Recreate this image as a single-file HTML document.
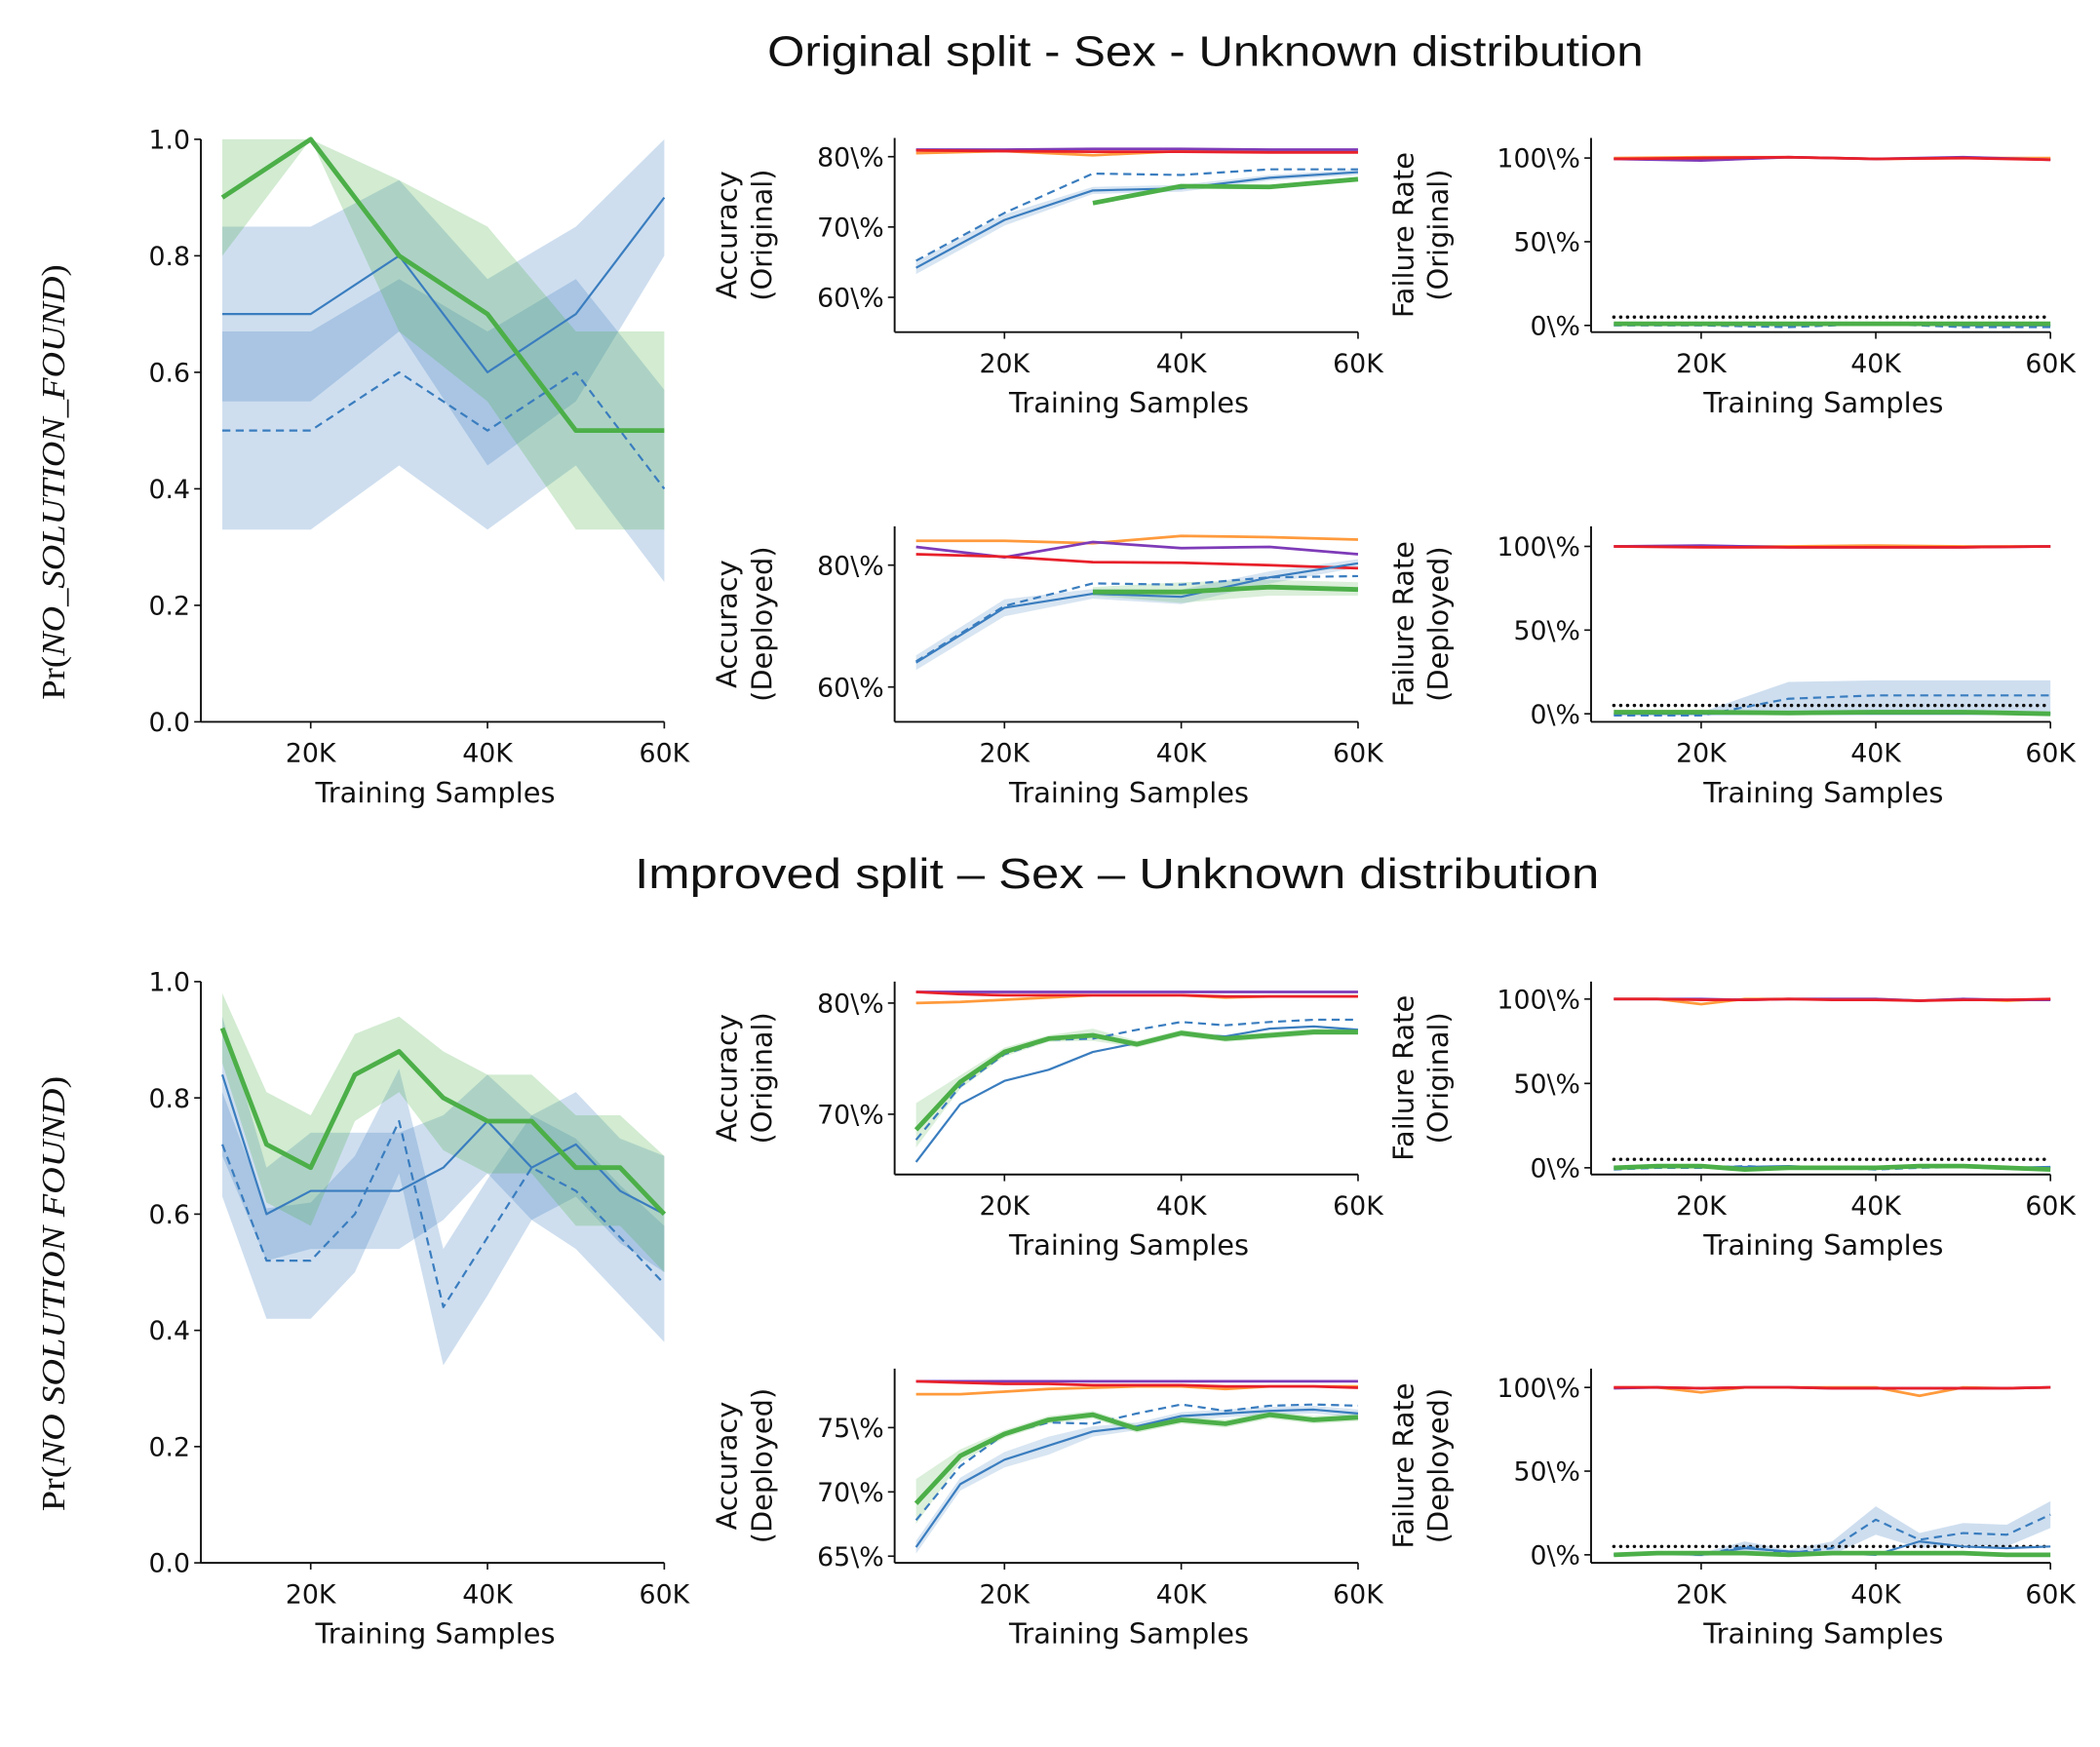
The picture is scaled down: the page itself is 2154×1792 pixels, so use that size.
<!DOCTYPE html>
<html><head><meta charset="utf-8">
<style>
html,body{margin:0;padding:0;background:#fff;}
svg{display:block;}
text{font-family:"DejaVu Sans","Liberation Sans",sans-serif;fill:#111;}
.ttl{font-family:"Liberation Sans",sans-serif;font-size:32px;}
.tick{font-size:19.5px;}
.axl{font-size:21px;}
.pr{font-family:"Liberation Serif",serif;font-size:25px;}
</style></head>
<body>
<svg id="chart" width="2154" height="1792" viewBox="0 0 1568 1304.5" preserveAspectRatio="none" xmlns="http://www.w3.org/2000/svg">
<rect x="0" y="0" width="1568" height="1304.5" fill="#fff"/>
<text class="ttl" x="900" y="49" text-anchor="middle" textLength="654" lengthAdjust="spacingAndGlyphs">Original split - Sex - Unknown distribution</text>
<text class="ttl" x="834" y="663" text-anchor="middle" textLength="720" lengthAdjust="spacingAndGlyphs">Improved split – Sex – Unknown distribution</text>
</svg>
<script>
// ---------- data ----------
const xs6=[10,20,30,40,50,60];
const xs11=[10,15,20,25,30,35,40,45,50,55,60];
const xTickVals=[20,40,60];
const xTickLabels=['20K','40K','60K'];

// Top-left: Pr(no solution)
const tlBlue=[0.7,0.7,0.8,0.6,0.7,0.9];
const tlBlueLo=[0.55,0.55,0.67,0.44,0.55,0.8];
const tlBlueHi=[0.85,0.85,0.93,0.76,0.85,1.0];
const tlDash=[0.5,0.5,0.6,0.5,0.6,0.4];
const tlDashLo=[0.33,0.33,0.44,0.33,0.44,0.24];
const tlDashHi=[0.67,0.67,0.76,0.67,0.76,0.57];
const tlGreen=[0.9,1.0,0.8,0.7,0.5,0.5];
const tlGreenLo=[0.8,1.0,0.67,0.55,0.33,0.33];
const tlGreenHi=[1.0,1.0,0.93,0.85,0.67,0.67];

// Bottom-left
const blBlue=[0.84,0.6,0.64,0.64,0.64,0.68,0.76,0.68,0.72,0.64,0.6];
const blBlueLo=[0.7,0.52,0.54,0.54,0.54,0.59,0.67,0.59,0.63,0.55,0.5];
const blBlueHi=[0.94,0.68,0.74,0.74,0.74,0.77,0.84,0.77,0.81,0.73,0.7];
const blDash=[0.72,0.52,0.52,0.6,0.76,0.44,0.56,0.68,0.64,0.56,0.48];
const blDashLo=[0.63,0.42,0.42,0.5,0.67,0.34,0.46,0.59,0.54,0.46,0.38];
const blDashHi=[0.81,0.61,0.62,0.7,0.85,0.54,0.66,0.77,0.73,0.65,0.58];
const blGreen=[0.92,0.72,0.68,0.84,0.88,0.8,0.76,0.76,0.68,0.68,0.6];
const blGreenLo=[0.86,0.62,0.58,0.76,0.81,0.71,0.67,0.67,0.58,0.58,0.5];
const blGreenHi=[0.98,0.81,0.77,0.91,0.94,0.88,0.84,0.84,0.77,0.77,0.7];

// Accuracy original (top split)
const a1Orange=[80.5,80.8,80.2,80.8,80.8,80.8];
const a1Purple=[81,81,81.1,81.1,81,81];
const a1Red=[80.9,80.8,80.7,80.7,80.6,80.6];
const a1Blue=[64.2,71,75.2,75.5,77,77.8];
const a1BlueLo=[63.3,70.2,74.7,75.0,76.6,77.4];
const a1BlueHi=[65.1,71.8,75.7,76.0,77.4,78.2];
const a1Dash=[65.2,72,77.6,77.4,78.2,78.2];
const a1Green=[null,null,73.4,75.8,75.7,76.8];

// Accuracy deployed (top split)
const a2Orange=[84,84,83.6,84.8,84.6,84.2];
const a2Purple=[83,81.3,83.8,82.8,83,81.8];
const a2Red=[81.8,81.4,80.5,80.4,80,79.5];
const a2Blue=[64,73,75.3,74.8,78,80.3];
const a2BlueLo=[62.8,71.6,74.5,73.6,77,79.6];
const a2BlueHi=[65.2,74.4,76.1,76.0,79,81.0];
const a2Dash=[64.2,73.3,77,76.8,78,78.2];
const a2Green=[null,null,75.6,75.6,76.4,76];
const a2GreenLo=[null,null,75.0,73.8,75.0,75.0];
const a2GreenHi=[null,null,76.4,77.2,77.6,77.2];

// Failure original (top split)
const f1Orange=[100,100.5,100.5,99.5,100,100];
const f1Purple=[99.5,98.5,100.5,99.5,100.5,99];
const f1Red=[99.5,100,100.5,99.5,100,99];
const f1Blue=[1,1,0,1,0,0];
const f1Dash=[0,0,-1,1,-1,-1];
const f1Green=[1,1,1,1,1,1];
const f1Threshold=[5,5];

// Failure deployed (top split)
const f2Orange=[100,100,100,100.5,100,100];
const f2Purple=[100,100.5,99.5,99.5,99.5,100];
const f2Red=[100,99.5,99.5,99.5,99.5,100];
const f2Blue=[0,0,0,0,0,0];
const f2Dash=[-1,-1,9,11,11,11];
const f2DashLo=[-1,-1,0,0,0,0];
const f2DashHi=[0,1,19,20,20,20];
const f2Green=[1,1,0.5,1,1,0];
const f2Threshold=[5,5];

// Accuracy original (improved split)
const a3Orange=[80,80.1,80.3,80.5,80.7,80.7,80.7,80.5,80.6,80.6,80.6];
const a3Purple=[81,81,81,81,81,81,81,81,81,81,81];
const a3Red=[81,80.8,80.7,80.7,80.7,80.7,80.7,80.6,80.6,80.6,80.6];
const a3Blue=[65.7,70.9,73.0,74.0,75.6,76.4,77.2,77.0,77.7,77.9,77.6];
const a3Dash=[67.7,72.5,75.4,76.7,76.8,77.6,78.3,78.0,78.3,78.5,78.5];
const a3Green=[68.6,72.9,75.6,76.8,77.1,76.3,77.3,76.8,77.1,77.4,77.4];
const a3GreenLo=[67.0,72.3,75.2,76.5,76.6,76.0,77.0,76.5,76.8,77.1,77.1];
const a3GreenHi=[71.0,73.5,76.0,77.1,77.7,76.6,77.6,77.1,77.4,77.7,77.7];

// Accuracy deployed (improved split)
const a4Orange=[77.6,77.6,77.8,78.0,78.1,78.2,78.2,78.0,78.2,78.2,78.2];
const a4Purple=[78.6,78.6,78.6,78.6,78.6,78.6,78.6,78.6,78.6,78.6,78.6];
const a4Red=[78.6,78.5,78.4,78.4,78.3,78.3,78.3,78.2,78.2,78.2,78.1];
const a4Blue=[65.7,70.6,72.5,73.6,74.7,75.1,75.9,76.1,76.3,76.4,76.1];
const a4BlueLo=[65.2,70.1,71.9,72.9,74.3,74.8,75.6,75.8,76.0,76.1,75.8];
const a4BlueHi=[66.2,71.1,73.1,74.3,75.1,75.4,76.2,76.4,76.6,76.7,76.4];
const a4Dash=[67.8,72.0,74.5,75.4,75.3,76.1,76.8,76.3,76.7,76.8,76.7];
const a4Green=[69.1,72.8,74.5,75.6,76.0,74.9,75.6,75.3,76.0,75.6,75.8];
const a4GreenLo=[67.5,72.3,74.2,75.3,75.7,74.6,75.3,75.0,75.7,75.3,75.5];
const a4GreenHi=[71.0,73.3,74.8,75.9,76.3,75.2,75.9,75.6,76.3,75.9,76.1];

// Failure original (improved split)
const f3Orange=[100,100,97,100,100,100,100,99,100,99,100];
const f3Purple=[100,100,100,99.5,100,100,100,99,100,99.5,99.5];
const f3Red=[100,100,99.5,99.5,100,99.5,99.5,99,99.5,99.5,100];
const f3Blue=[0,0.5,1,0.5,1,0,0,1,1,0,0.5];
const f3Dash=[-1,0,0,1,0,0,-1,0,0.5,-0.5,0];
const f3Green=[0,1,1,-1,0,0,0,1,1,0,-1];
const f3Threshold=[5,5];

// Failure deployed (improved split)
const f4Orange=[100,100,97,100,100,100,100,95,100,99.5,100];
const f4Purple=[99.5,100,99.5,100,100,99.5,99.5,99.5,99.5,99.5,100];
const f4Red=[100,100,99.5,100,100,99.5,99.5,99.5,99.5,99.5,100];
const f4Blue=[0,1,0,4,2,1,0,8,5,4,5];
const f4Dash=[0,1,0,5,1,4,21,9,13,12,24];
const f4DashLo=[-1,0,-1,2,-1,0,12,4,6,5,16];
const f4DashHi=[1,2,1,8,3,8,29,13,19,18,32];
const f4Green=[0,1,1,1,0,1,1,1,1,0,0];
const f4Threshold=[5,5];

// ---------- drawing ----------
const NS='http://www.w3.org/2000/svg';
const svg=document.getElementById('chart');
function mk(tag,attrs,parent){const e=document.createElementNS(NS,tag);for(const k in attrs)e.setAttribute(k,attrs[k]);(parent||svg).appendChild(e);return e;}

const C={blue:'#3a7dbf',green:'#4caf48',orange:'#ff9a3c',purple:'#7e3bb8',red:'#e8202a'};

function makeX(x10,x60){return v=>x10+(v-10)*(x60-x10)/50;}
function makeY(v1,p1,v2,p2){return v=>p1+(v-v1)*(p2-p1)/(v2-v1);}

function linePath(xs,ys,X,Y){let d='',pen=false;for(let i=0;i<xs.length;i++){if(ys[i]===null){pen=false;continue;}d+=(pen?'L':'M')+X(xs[i]).toFixed(2)+','+Y(ys[i]).toFixed(2);pen=true;}return d;}
function bandPath(xs,lo,hi,X,Y){const idx=[];for(let i=0;i<xs.length;i++)if(lo[i]!==null)idx.push(i);let d='';idx.forEach((i,k)=>{d+=(k?'L':'M')+X(xs[i]).toFixed(2)+','+Y(hi[i]).toFixed(2);});idx.slice().reverse().forEach(i=>{d+='L'+X(xs[i]).toFixed(2)+','+Y(lo[i]).toFixed(2);});return d+'Z';}

function panel(p){
  const g=mk('g',{});
  
  
  const X=makeX(p.x10,p.x60), Y=makeY(p.r1v,p.r1p,p.r2v,p.r2p);
  (p.bands||[]).forEach(b=>{
    const e=mk('path',{d:bandPath(p.xs,b.lo,b.hi,X,Y),fill:C[b.c],'fill-opacity':b.o||0.25,stroke:'none'},g);
    
    
  });
  p.lines.forEach(l=>{
    const xs=l.xs||p.xs;
    const e=mk('path',{d:linePath(xs,l.v,X,Y),fill:'none',stroke:l.c==='black'?'#111':C[l.c],'stroke-width':l.w||1.6,'stroke-dasharray':l.dash||'none','stroke-linejoin':'round','stroke-linecap':l.c==='black'?'round':'butt'},g);
    
    
  });
  const ys=mk('line',{x1:p.x0,y1:p.yTop,x2:p.x0,y2:p.yBot,stroke:'#111','stroke-width':1.4},g);
  
  
  const xl=mk('line',{x1:p.x0,y1:p.yBot,x2:p.x60,y2:p.yBot,stroke:'#111','stroke-width':1.4},g);
  
  
  xTickVals.forEach((v,i)=>{
    const x=X(v);
    mk('line',{x1:x,y1:p.yBot,x2:x,y2:p.yBot+5,stroke:'#111','stroke-width':1.2},g);
    const t=mk('text',{x:x,y:p.yBot+30,'text-anchor':'middle',class:'tick'},g);
    t.textContent=xTickLabels[i];
    
    
  });
  p.yt.forEach((v,i)=>{
    const y=Y(v);
    mk('line',{x1:p.x0-5,y1:y,x2:p.x0,y2:y,stroke:'#111','stroke-width':1.2},g);
    const t=mk('text',{x:p.x0-8,y:y+7,'text-anchor':'end',class:'tick'},g);
    t.textContent=p.ytl[i];
    
    
  });
  const xt=mk('text',{x:(p.x0+p.x60)/2+2,y:p.yBot+60,'text-anchor':'middle',class:'axl'},g);
  xt.textContent='Training Samples';
  
  
  const cy=(p.yTop+p.yBot)/2;
  if(p.ylab){
    p.ylab.forEach((s,i)=>{
      const lx=p.labX+i*26;
      const t=mk('text',{x:lx,y:cy,'text-anchor':'middle',class:'axl',transform:`rotate(-90 ${lx} ${cy})`},g);
      t.textContent=s;
      
      
    });
  }
  if(p.pr){
    const lx=48;
    const t=mk('text',{x:lx,y:p.prY,'text-anchor':'middle',class:'pr',transform:`rotate(-90 ${lx} ${p.prY})`,textLength:325,lengthAdjust:'spacingAndGlyphs'},g);
    
    
    const a=mk('tspan',{},t);a.textContent='Pr(';
    const b=mk('tspan',{'font-style':'italic'},t);b.textContent=p.pr;
    const c=mk('tspan',{},t);c.textContent=')';
  }
}

const warm=(o,pu,r)=>[
  {n:'orange-line',v:o,c:'orange',w:2},
  {n:'purple-line',v:pu,c:'purple',w:2},
  {n:'red-line',v:r,c:'red',w:2}];
const prTicks=[0,0.2,0.4,0.6,0.8,1.0], prTickL=['0.0','0.2','0.4','0.6','0.8','1.0'];
const frTicks=[0,50,100], frTickL=['0\\%','50\\%','100\\%'];

panel({name:'panel-no-solution-original',xs:xs6,x0:150,x10:166,x60:496,yTop:104,yBot:539,r1v:0,r1p:539,r2v:1,r2p:104,yt:prTicks,ytl:prTickL,pr:'NO_SOLUTION_FOUND',prY:360,
  bands:[{n:'blue-band',lo:tlBlueLo,hi:tlBlueHi,c:'blue'},{n:'blue-dashed-band',lo:tlDashLo,hi:tlDashHi,c:'blue'},{n:'green-band',lo:tlGreenLo,hi:tlGreenHi,c:'green'}],
  lines:[{n:'blue-line',v:tlBlue,c:'blue',w:1.6},{n:'blue-dashed-line',v:tlDash,c:'blue',w:1.6,dash:'6,4'},{n:'green-line',v:tlGreen,c:'green',w:3.5}]});
panel({name:'panel-no-solution-improved',xs:xs11,x0:150,x10:166,x60:496,yTop:733,yBot:1167,r1v:0,r1p:1167,r2v:1,r2p:733,yt:prTicks,ytl:prTickL,pr:'NO SOLUTION FOUND',prY:966,
  bands:[{n:'blue-band',lo:blBlueLo,hi:blBlueHi,c:'blue'},{n:'blue-dashed-band',lo:blDashLo,hi:blDashHi,c:'blue'},{n:'green-band',lo:blGreenLo,hi:blGreenHi,c:'green'}],
  lines:[{n:'blue-line',v:blBlue,c:'blue',w:1.6},{n:'blue-dashed-line',v:blDash,c:'blue',w:1.6,dash:'6,4'},{n:'green-line',v:blGreen,c:'green',w:3.5}]});

panel({name:'panel-accuracy-original-top',xs:xs6,x0:668,x10:684,x60:1014,yTop:103,yBot:248,r1v:60,r1p:222,r2v:80,r2p:117,yt:[60,70,80],ytl:['60\\%','70\\%','80\\%'],ylab:['Accuracy','(Original)'],labX:550,
  bands:[{n:'blue-band',lo:a1BlueLo,hi:a1BlueHi,c:'blue',o:0.2}],
  lines:warm(a1Orange,a1Purple,a1Red).concat([{n:'blue-line',v:a1Blue,c:'blue'},{n:'blue-dashed-line',v:a1Dash,c:'blue',dash:'6,4'},{n:'green-line',v:a1Green,c:'green',w:3.5}])});
panel({name:'panel-accuracy-deployed-top',xs:xs6,x0:668,x10:684,x60:1014,yTop:393,yBot:539,r1v:60,r1p:513,r2v:80,r2p:422,yt:[60,80],ytl:['60\\%','80\\%'],ylab:['Accuracy','(Deployed)'],labX:550,
  bands:[{n:'blue-band',lo:a2BlueLo,hi:a2BlueHi,c:'blue',o:0.2},{n:'green-band',lo:a2GreenLo,hi:a2GreenHi,c:'green',o:0.2}],
  lines:warm(a2Orange,a2Purple,a2Red).concat([{n:'blue-line',v:a2Blue,c:'blue'},{n:'blue-dashed-line',v:a2Dash,c:'blue',dash:'6,4'},{n:'green-line',v:a2Green,c:'green',w:3.5}])});
panel({name:'panel-accuracy-original-bottom',xs:xs11,x0:668,x10:684,x60:1014,yTop:733,yBot:877,r1v:70,r1p:832,r2v:80,r2p:749,yt:[70,80],ytl:['70\\%','80\\%'],ylab:['Accuracy','(Original)'],labX:550,
  bands:[{n:'green-band',lo:a3GreenLo,hi:a3GreenHi,c:'green',o:0.2}],
  lines:warm(a3Orange,a3Purple,a3Red).concat([{n:'blue-line',v:a3Blue,c:'blue'},{n:'blue-dashed-line',v:a3Dash,c:'blue',dash:'6,4'},{n:'green-line',v:a3Green,c:'green',w:3.5}])});
panel({name:'panel-accuracy-deployed-bottom',xs:xs11,x0:668,x10:684,x60:1014,yTop:1022,yBot:1167,r1v:65,r1p:1162,r2v:75,r2p:1066,yt:[65,70,75],ytl:['65\\%','70\\%','75\\%'],ylab:['Accuracy','(Deployed)'],labX:550,
  bands:[{n:'blue-band',lo:a4BlueLo,hi:a4BlueHi,c:'blue',o:0.2},{n:'green-band',lo:a4GreenLo,hi:a4GreenHi,c:'green',o:0.2}],
  lines:warm(a4Orange,a4Purple,a4Red).concat([{n:'blue-line',v:a4Blue,c:'blue'},{n:'blue-dashed-line',v:a4Dash,c:'blue',dash:'6,4'},{n:'green-line',v:a4Green,c:'green',w:3.5}])});

const thrX=[10,60];
function fr(name,xs,yTop,yBot,p0,p100,lab,o,pu,r,b,d,gr,thr,band){
  panel({name:name,xs:xs,x0:1188,x10:1205,x60:1531,yTop:yTop,yBot:yBot,r1v:0,r1p:p0,r2v:100,r2p:p100,yt:frTicks,ytl:frTickL,ylab:['Failure Rate',lab],labX:1055,
    bands:band?[{n:'blue-dashed-band',lo:band[0],hi:band[1],c:'blue'}]:[],
    lines:[{n:'threshold-line',xs:thrX,v:thr,c:'black',w:2.5,dash:'0.1,5'}].concat(warm(o,pu,r)).concat([{n:'blue-line',v:b,c:'blue'},{n:'blue-dashed-line',v:d,c:'blue',dash:'6,4'},{n:'green-line',v:gr,c:'green',w:3.5}])});
}
fr('panel-failure-original-top',xs6,103,248,243,118,'(Original)',f1Orange,f1Purple,f1Red,f1Blue,f1Dash,f1Green,f1Threshold,null);
fr('panel-failure-deployed-top',xs6,393,539,533,408,'(Deployed)',f2Orange,f2Purple,f2Red,f2Blue,f2Dash,f2Green,f2Threshold,[f2DashLo,f2DashHi]);
fr('panel-failure-original-bottom',xs11,733,877,872,746,'(Original)',f3Orange,f3Purple,f3Red,f3Blue,f3Dash,f3Green,f3Threshold,null);
fr('panel-failure-deployed-bottom',xs11,1022,1167,1161,1036,'(Deployed)',f4Orange,f4Purple,f4Red,f4Blue,f4Dash,f4Green,f4Threshold,[f4DashLo,f4DashHi]);
</script>
</body></html>
